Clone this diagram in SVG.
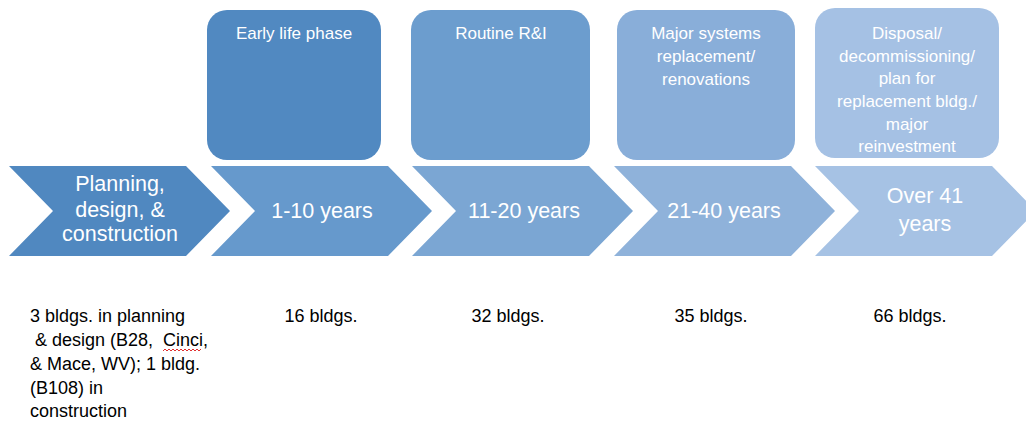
<svg xmlns="http://www.w3.org/2000/svg" width="1026" height="423" viewBox="0 0 1026 423">
<style>
text{font-family:"Liberation Sans",Arial,sans-serif}
.w{fill:#ffffff;text-anchor:middle}
.bx{font-size:17px}
.cv{font-size:21.5px}
.b{fill:#000000;font-size:18px}
.bc{text-anchor:middle}
</style>
<rect width="1026" height="423" fill="#ffffff"/>
<g id="box-early">
<rect x="207" y="10" width="174" height="150" rx="20" fill="#5189c1"/>
<text class="w bx" x="294" y="39">Early life phase</text>
</g>
<g id="box-routine">
<rect x="411" y="10" width="179" height="150" rx="20" fill="#6c9dce"/>
<text class="w bx" x="501" y="39">Routine R&amp;I</text>
</g>
<g id="box-major">
<rect x="617" y="10" width="178" height="150" rx="20" fill="#89aed9"/>
<text class="w bx" x="706" y="39">Major systems</text>
<text class="w bx" x="706" y="62">replacement/</text>
<text class="w bx" x="706" y="85">renovations</text>
</g>
<g id="box-disposal">
<rect x="815" y="8" width="184" height="150" rx="20" fill="#a5c1e4"/>
<text class="w bx" x="907" y="39">Disposal/</text>
<text class="w bx" x="907" y="62">decommissioning/</text>
<text class="w bx" x="907" y="84">plan for</text>
<text class="w bx" x="907" y="107">replacement bldg./</text>
<text class="w bx" x="907" y="130">major</text>
<text class="w bx" x="907" y="152">reinvestment</text>
</g>
<g id="chev-planning">
<polygon points="9,166 186,166 230,211 186,256 9,256 53,211" fill="#5088c0"/>
<text class="w cv" x="120" y="191">Planning,</text>
<text class="w cv" x="120" y="217">design, &amp;</text>
<text class="w cv" x="120" y="241">construction</text>
</g>
<g id="chev-1-10">
<polygon points="211,166 388,166 432,211 388,256 211,256 255,211" fill="#6699cc"/>
<text class="w cv" x="322" y="218">1-10 years</text>
</g>
<g id="chev-11-20">
<polygon points="412,166 589,166 633,211 589,256 412,256 456,211" fill="#7ba6d3"/>
<text class="w cv" x="524" y="218">11-20 years</text>
</g>
<g id="chev-21-40">
<polygon points="614,166 791,166 835,211 791,256 614,256 658,211" fill="#8fb2da"/>
<text class="w cv" x="724" y="218">21-40 years</text>
</g>
<g id="chev-over41">
<polygon points="815,166 992,166 1036,211 992,256 815,256 859,211" fill="#a6c2e4"/>
<text class="w cv" x="925" y="203">Over 41</text>
<text class="w cv" x="925" y="231">years</text>
</g>
<g id="connectors"></g>
<g id="counts">
<text class="b" x="30" y="322">3 bldgs. in planning</text>
<text class="b" x="30" y="346" xml:space="preserve"> &amp; design (B28,  Cinci,</text>
<text class="b" x="30" y="370">&amp; Mace, WV); 1 bldg.</text>
<text class="b" x="30" y="394">(B108) in</text>
<text class="b" x="30" y="417">construction</text>
<path d="M163,351 l2,-2 l2,2 l2,-2 l2,2 l2,-2 l2,2 l2,-2 l2,2 l2,-2 l2,2 l2,-2 l2,2 l2,-2 l2,2 l2,-2 l2,2 l2,-2 l2,2 l2,-2" fill="none" stroke="#e03030" stroke-width="1"/>
<text class="b bc" x="321" y="322">16 bldgs.</text>
<text class="b bc" x="508" y="322">32 bldgs.</text>
<text class="b bc" x="711" y="322">35 bldgs.</text>
<text class="b bc" x="910" y="322">66 bldgs.</text>
</g>
</svg>
